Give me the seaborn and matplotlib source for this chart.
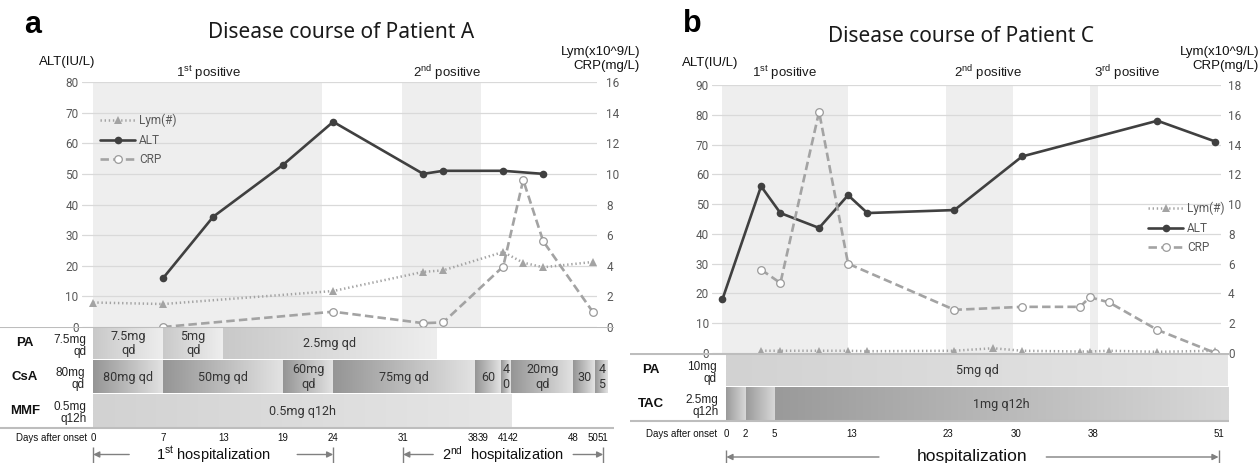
import numpy as np
import matplotlib
matplotlib.use('Agg')
import matplotlib.pyplot as plt
import seaborn as sns
from matplotlib.colors import LinearSegmentedColormap

sns.set_theme(style='white')
plt.rcParams['font.family'] = ['Liberation Sans', 'DejaVu Sans']
plt.rcParams['mathtext.fontset'] = 'custom'
plt.rcParams['mathtext.rm'] = 'Liberation Sans'
plt.rcParams['mathtext.default'] = 'regular'

# ------------------------------------------------------------------ data
# Patient A
a_alt_days = [7, 12, 19, 24, 33, 35, 41, 45]
a_alt = [16, 36, 53, 67, 50, 51, 51, 50]
a_lym_days = [0, 7, 24, 33, 35, 41, 43, 45, 50]
a_lym = [1.6, 1.5, 2.35, 3.6, 3.7, 4.9, 4.2, 3.9, 4.25]
a_crp_days = [7, 24, 33, 35, 41, 43, 45, 50]
a_crp = [0.0, 1.0, 0.25, 0.3, 3.95, 9.6, 5.6, 0.95]
a_positive = [(0, 22.9), (30.9, 38.8)]
a_positive_labels = ['1$^{st}$ positive', '2$^{nd}$ positive']
a_pa_seg = [(0, 7, '7.5mg\nqd'), (7, 13, '5mg\nqd'), (13, 34.3, '2.5mg qd')]
a_csa_seg = [(0, 7, '80mg qd'), (7, 19, '50mg qd'), (19, 24, '60mg\nqd'),
             (24, 38.2, '75mg qd'), (38.2, 40.8, '60'), (40.8, 41.8, '4\n0'),
             (41.8, 48, '20mg\nqd'), (48, 50.2, '30'), (50.2, 51.5, '4\n5')]
a_mmf_seg = [(0, 41.8, '0.5mg q12h')]
a_drugs = ['PA', 'CsA', 'MMF']
a_start_doses = ['7.5mg\nqd', '80mg\nqd', '0.5mg\nq12h']
a_day_ticks = [0, 7, 13, 19, 24, 31, 38, 39, 41, 42, 48, 50, 51]
a_hosp = [(0, 24, '1$^{st}$ hospitalization'), (31, 51, '2$^{nd}$  hospitalization')]

# Patient C
b_alt_days = [0, 4, 6, 10, 13, 15, 24, 31, 45, 51]
b_alt = [18, 56, 47, 42, 53, 47, 48, 66, 78, 71]
b_lym_days = [4, 6, 10, 13, 15, 24, 28, 31, 37, 38, 40, 45, 51]
b_lym = [0.15, 0.15, 0.15, 0.15, 0.12, 0.15, 0.32, 0.15, 0.1, 0.1, 0.15, 0.08, 0.15]
b_crp_days = [4, 6, 10, 13, 24, 31, 37, 38, 40, 45, 51]
b_crp = [5.6, 4.7, 16.2, 6.0, 2.9, 3.1, 3.1, 3.75, 3.4, 1.55, 0.0]
b_positive = [(0, 13), (23.1, 30.1), (38, 38.9)]
b_positive_labels = ['1$^{st}$ positive', '2$^{nd}$ positive', '3$^{rd}$ positive']
b_pa_seg = [(0, 52, '5mg qd')]
b_tac_seg = [(0, 2, ''), (2, 5, ''), (5, 52, '1mg q12h')]
b_drugs = ['PA', 'TAC']
b_start_doses = ['10mg\nqd', '2.5mg\nq12h']
b_day_ticks = [0, 2, 5, 13, 23, 30, 38, 51]
b_hosp = [(0, 51, 'hospitalization')]

# ------------------------------------------------------------------ figure
W, H = 1260, 463
fig = plt.figure(figsize=(W / 100, H / 100), dpi=100)


def ftext(x, y, s, **kw):
    fig.text(x / W, 1 - y / H, s, **kw)


def add_ax(x0, x1, yt, yb):
    return fig.add_axes([x0 / W, 1 - yb / H, (x1 - x0) / W, (yb - yt) / H])


STYLES = {
    'light': ('#c9c9c9', '#eeeeee'),
    'dark': ('#959595', '#e3e3e3'),
    'flat': ('#d2d2d2', '#e6e6e6'),
    'tac': ('#9a9a9a', '#d8d8d8'),
}
GRAY = '#a3a3a3'


def draw_plot(cfg):
    x0, x1, yt, yb = cfg['plot']
    d0, ppd = cfg['day0'], cfg['ppd']
    ax = add_ax(x0, x1, yt, yb)
    ax2 = ax.twinx()
    for s, e in cfg['shade']:
        ax.axvspan(s, e, color='#eeeeee', lw=0, zorder=0)
    sns.lineplot(x=cfg['alt_days'], y=cfg['alt'], ax=ax, color='#404040', lw=1.9,
                 marker='o', markersize=5.5, markeredgewidth=0, label='ALT', legend=False)
    sns.lineplot(x=cfg['lym_days'], y=cfg['lym'], ax=ax2, color=GRAY, lw=1.8,
                 linestyle=':', marker='^', markersize=5.5, markeredgewidth=0,
                 label='Lym(#)', legend=False)
    sns.lineplot(x=cfg['crp_days'], y=cfg['crp'], ax=ax2, color=GRAY, lw=1.9,
                 linestyle='--', marker='o', markersize=5.5, markerfacecolor='white',
                 markeredgecolor='#9a9a9a', markeredgewidth=0.9, label='CRP', legend=False)
    ax2.lines[-1].set_dashes([3.2, 1.6])
    ax2.lines[-2].set_dashes([0.55, 1.1])
    ax.set_xlim((x0 - d0) / ppd, (x1 - d0) / ppd)
    ax.set_ylim(0, cfg['alt_max'])
    ax.set_yticks(np.arange(0, cfg['alt_max'] + 1, 10))
    ax2.set_ylim(0, cfg['r_max'])
    ax2.set_yticks(np.arange(0, cfg['r_max'] + 1, 2))
    ax.set_xticks([])
    for a in (ax, ax2):
        for sp in a.spines.values():
            sp.set_visible(False)
        a.tick_params(axis='y', length=0, labelsize=8.5, labelcolor='#595959')
        a.set_xlabel('')
        a.set_ylabel('')
        for t in a.get_yticklabels():
            t.set_family('Roboto')
    ax.tick_params(axis='y', pad=2.5)
    ax2.tick_params(axis='y', pad=cfg['rpad'])
    ax.yaxis.grid(True, color='#d9d9d9', lw=0.9)
    ax2.grid(False)
    ax.set_axisbelow(True)
    ax.set_facecolor('none')
    # legend
    h1, l1 = ax.get_legend_handles_labels()
    h2, l2 = ax2.get_legend_handles_labels()
    handles = [h2[0], h1[0], h2[1]]
    labels = [l2[0], l1[0], l2[1]]
    lx, ly = cfg['legend']
    leg = ax2.legend(handles, labels, loc='upper left', bbox_to_anchor=(lx / W, 1 - ly / H),
                     bbox_transform=fig.transFigure, frameon=False, fontsize=8.5,
                     handlelength=3.0, handletextpad=0.3, labelspacing=0.55,
                     borderpad=0, borderaxespad=0, labelcolor='#595959')
    for t in leg.get_texts():
        t.set_family('Roboto')
    # positive labels
    for (s, e), lab, lxp in zip(cfg['shade'], cfg['pos_labels'], cfg['pos_x']):
        ftext(lxp, 73, lab, ha='center', va='center', fontsize=9.5, color='#1a1a1a')


def draw_table(cfg):
    tx0, tx1, tyt, tyb = cfg['table']
    d0, ppd = cfg['tday0'], cfg['tppd']
    tax = add_ax(tx0, tx1, tyt, tyb)
    tax.set_xlim((tx0 - d0) / ppd, (tx1 - d0) / ppd)
    tax.set_ylim(tyb, tyt)
    tax.axis('off')
    grad = np.linspace(0, 1, 256).reshape(1, -1)
    for (name, dose, segs, style), (rt, rb) in zip(cfg['rows'], cfg['row_y']):
        c0, c1 = STYLES[style]
        cm = LinearSegmentedColormap.from_list('g', [c0, c1])
        for s, e, lab in segs:
            tax.imshow(grad, extent=(s, e, rb, rt), cmap=cm, aspect='auto',
                       interpolation='bilinear', zorder=1)
            if lab:
                tax.text((s + e) / 2, (rt + rb) / 2 + 0.5, lab, ha='center', va='center',
                         fontsize=9, color='#333333', family='Roboto', linespacing=1.15,
                         zorder=3)
        ftext(cfg['name_x'], (rt + rb) / 2, name, ha='center', va='center',
              fontsize=9.5, fontweight='bold', color='#111111')
        ftext(cfg['dose_x'], (rt + rb) / 2 + 2.5, dose, ha='center', va='center',
              fontsize=8.5, color='#222222', linespacing=1.0, multialignment='right')
    tax.set_xlim((tx0 - d0) / ppd, (tx1 - d0) / ppd)
    tax.set_ylim(tyb, tyt)
    le = (cfg['line_end'] - d0) / ppd
    ls = (tx0 - d0) / ppd
    tax.hlines([cfg['top_line'], cfg['sep_line']], ls, le, color='#bdbdbd', lw=1.5, zorder=4)
    # days row
    ftext(cfg['days_x'], cfg['days_y'], 'Days after onset', ha='right', va='center',
          fontsize=7, color='#111111')
    for d in cfg['day_ticks']:
        tax.text(d, cfg['days_y'], str(d), ha='center', va='center', fontsize=7,
                 color='#111111')
    # hospitalization arrows
    ya = cfg['hosp_y']
    for s, e, lab in cfg['hosp']:
        tax.vlines([s, e], cfg['bar_top'], tyb, color='#808080', lw=1)
        f1, f2 = cfg['arrow_frac']
        ap = dict(arrowstyle='-|>', color='#808080', lw=1, mutation_scale=9,
                  shrinkA=0, shrinkB=0)
        tax.annotate('', xy=(s, ya), xytext=(s + f1 * (e - s), ya), arrowprops=ap)
        tax.annotate('', xy=(e, ya), xytext=(e - f2 * (e - s), ya), arrowprops=ap)
        tax.text((s + e) / 2, ya, lab, ha='center', va='center',
                 fontsize=cfg['hosp_fs'], color='#111111')


cfg_a = dict(
    plot=(82, 597.4, 82, 327), day0=93.2, ppd=10.0, alt_max=80, r_max=16, rpad=6.5,
    alt_days=a_alt_days, alt=a_alt, lym_days=a_lym_days, lym=a_lym,
    crp_days=a_crp_days, crp=a_crp, shade=a_positive, pos_labels=a_positive_labels,
    pos_x=[209, 447], legend=(100, 114),
    table=(0, 630, 327, 463), tday0=93.2, tppd=10.0,
    rows=[(n, d, s, st) for (n, d, s, st) in
          zip(a_drugs, a_start_doses, [a_pa_seg, a_csa_seg, a_mmf_seg],
              ['light', 'dark', 'flat'])],
    row_y=[(327.7, 358.6), (360.3, 392.9), (394.5, 426.8)],
    name_x=25, dose_x=70, line_end=614, top_line=327.3, sep_line=427.8,
    days_x=87, days_y=438, day_ticks=a_day_ticks,
    hosp=a_hosp, hosp_y=454.5, bar_top=447, arrow_frac=(0.15, 0.15), hosp_fs=10.5,
)

cfg_b = dict(
    plot=(712.4, 1221, 85, 353), day0=722.4, ppd=9.667, alt_max=90, r_max=18, rpad=5,
    alt_days=b_alt_days, alt=b_alt, lym_days=b_lym_days, lym=b_lym,
    crp_days=b_crp_days, crp=b_crp, shade=b_positive, pos_labels=b_positive_labels,
    pos_x=[785, 988, 1127], legend=(1148, 202),
    table=(630, 1260, 353, 463), tday0=726.4, tppd=9.65,
    rows=[(n, d, s, st) for (n, d, s, st) in
          zip(b_drugs, b_start_doses, [b_pa_seg, b_tac_seg], ['flat', 'tac'])],
    row_y=[(354.3, 385.8), (387.7, 420.2)],
    name_x=651, dose_x=702, line_end=1229, top_line=353.8, sep_line=421.2,
    days_x=717.6, days_y=434, day_ticks=b_day_ticks,
    hosp=b_hosp, hosp_y=457, bar_top=450, arrow_frac=(0.31, 0.35), hosp_fs=12.5,
)

for cfg in (cfg_a, cfg_b):
    draw_plot(cfg)
    draw_table(cfg)

# titles and axis labels
ftext(33, 25, 'a', ha='center', va='center', fontsize=22, fontweight='bold', color='#000')
ftext(692, 24, 'b', ha='center', va='center', fontsize=22, fontweight='bold', color='#000')
ftext(341, 33, 'Disease course of Patient A', ha='center', va='center', fontsize=15,
      family='Noto Sans', color='#1a1a1a')
ftext(961, 37, 'Disease course of Patient C', ha='center', va='center', fontsize=15,
      family='Noto Sans', color='#1a1a1a')
ftext(67, 62, 'ALT(IU/L)', ha='center', va='center', fontsize=9.5, color='#111')
ftext(710, 63, 'ALT(IU/L)', ha='center', va='center', fontsize=9.5, color='#111')
for xr in (640, 1259):
    ftext(xr, 52, 'Lym(x10^9/L)', ha='right', va='center', fontsize=9.5, color='#111')
    ftext(xr, 66.5, 'CRP(mg/L)', ha='right', va='center', fontsize=9.5, color='#111')

fig.savefig('out.png', dpi=100, facecolor='white')
